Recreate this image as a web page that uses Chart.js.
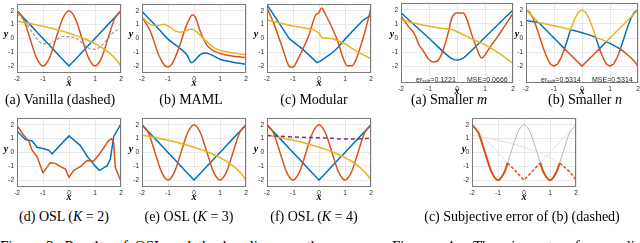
<!DOCTYPE html>
<html><head><meta charset="utf-8">
<script src="https://cdn.jsdelivr.net/npm/chart.js@4/dist/chart.umd.min.js"></script>
<style>
html,body{margin:0;padding:0;}
body{width:640px;height:243px;overflow:hidden;background:#fff;position:relative;font-family:"Liberation Serif","Times New Roman",serif;color:#000;}
canvas{position:absolute;}
.t{position:absolute;white-space:nowrap;}
.cap{font-size:14px;line-height:14px;transform:translateX(-50%);}
.ax{font-size:10px;line-height:10px;font-style:italic;font-weight:bold;transform:translateX(-50%);}
.ann{font-family:"Liberation Sans",Arial,sans-serif;font-size:7px;line-height:7px;color:#262626;}
.fig{font-size:15px;line-height:15px;text-align:justify;text-align-last:justify;}
</style>
</head><body>
<script>
// ---------- tick labels ----------
const TICK_VALUES = [-2, -1, 0, 1, 2];

// ---------- ground-truth tasks ----------
const gtX       = [-2,-1.75,-1.5,-1.25,-1,-0.75,-0.5,-0.25,0,0.25,0.5,0.75,1,1.25,1.5,1.75,2];
const gtRedY    = [2,1.41,0,-1.41,-2,-1.41,0,1.41,2,1.41,0,-1.41,-2,-1.41,0,1.41,2];
const gtBlueY   = [2,1.5,1,0.5,0,-0.5,-1,-1.5,-2,-1.5,-1,-0.5,0,0.5,1,1.5,2];
const gtYellowX = [-2,-1.75,-1.5,-1.25,-1,-0.75,-0.5,-0.25,0,0.25,0.5,0.75,1,1.25,1.5,1.75,1.875,2];
const gtYellowY = [1.25,1.165,1.075,0.98,0.878,0.768,0.65,0.521,0.38,0.224,0.05,-0.147,-0.376,-0.645,-0.975,-1.40,-1.67,-2.0];

// ---------- (a) Vanilla ----------
const vanillaY  = [1.75,1.36,0.69,0.02,-0.37,-0.38,-0.12,0.14,0.13,0.04,-0.32,-0.69,-0.79,-0.52,0.01,0.50,0.67];

// ---------- (b) MAML ----------
const mamlBlueX   = [-2,-1.5,-1,-0.6,-0.27,-0.1,0.05,0.24,0.42,0.65,1,1.45,2];
const mamlBlueY   = [1.95,0.98,-0.05,-0.62,-1.2,-1.75,-1.55,-1.17,-1.05,-1.17,-1.5,-1.7,-1.86];
const mamlRedX    = [-2,-1.68,-1.36,-1.13,-1.0,-0.85,-0.59,-0.33,-0.14,-0.06,0.05,0.24,0.5,0.82,1.2,1.6,2];
const mamlRedY    = [1.55,0.52,-1.18,-1.95,-2.05,-1.86,-0.73,0.75,1.55,1.72,1.55,0.52,-0.5,-0.95,-1.18,-1.3,-1.38];
const mamlYellowX = [-2,-1.68,-1.42,-1.17,-0.97,-0.72,-0.53,-0.33,-0.08,0.12,0.44,0.82,1.2,1.6,2];
const mamlYellowY = [1.55,1.0,0.93,1.02,0.88,0.55,0.45,0.55,0.68,0.45,-0.15,-0.72,-0.95,-1.08,-1.18];

// ---------- (c) Modular ----------
const modBlueX   = [-2,-1.13,-1,-0.65,-0.33,-0.08,0.05,0.44,0.69,1.0,1.46,1.72,2];
const modBlueY   = [2.45,-0.05,-0.23,-0.73,-1.3,-1.75,-1.64,-1.14,-0.73,-0.05,0.86,1.36,1.66];
const modRedX    = [-2,-1.74,-1.42,-1.17,-1.08,-0.97,-0.85,-0.4,-0.14,-0.01,0.1,0.24,0.69,0.95,1.08,1.27,1.4,1.72,2];
const modRedY    = [2.2,1.09,-0.61,-1.95,-2.08,-2.05,-1.64,0.18,1.66,1.85,2.2,1.77,-0.05,-1.52,-1.98,-1.98,-1.64,0.18,2.2];
const modYellowX = [-2,-1,-0.21,-0.01,0.12,0.5,1,1.46,2];
const modYellowY = [1.33,0.9,0.64,0.41,0.05,0.0,-0.38,-0.95,-1.48];

// ---------- Fig 4 (a) Smaller m ----------
const smBlueX   = [-2,-1,-0.3,-0.15,0,0.15,0.3,1,2];
const smBlueY   = [1.8,-0.02,-1.3,-1.5,-1.57,-1.5,-1.3,0.06,2.0];
const smRedX    = [-2,-1.75,-1.49,-1.37,-1.2,-1.02,-0.84,-0.66,-0.49,-0.31,-0.19,-0.01,0.22,0.34,0.52,0.7,0.88,1.0,1.23,1.47,1.7,2];
const smRedY    = [1.6,0.85,0.18,-0.44,-0.93,-1.49,-1.7,-1.56,-0.82,0.4,1.4,1.78,1.78,1.4,0.29,-0.71,-1.42,-1.2,-0.5,0.15,0.85,1.75];
const smYellowX = [-2,-1.5,-1,-0.5,-0.19,0,0.5,1,1.5,2];
const smYellowY = [1.3,1.05,0.84,0.68,0.6,0.45,-0.02,-0.49,-1.07,-1.82];
const smErr = "0.1221", smMse = "0.0666";

// ---------- Fig 4 (b) Smaller n ----------
const snRedX    = [-2,-1.875,-1.75,-1.625,-1.5,-1.375,-1.25,-1.125,-1,-0.875,-0.75,-0.625,0,0.625,0.75,0.875,1,1.125,1.25,1.37,1.5,1.75,1.875,2];
const snRedY    = [2,1.85,1.41,0.77,0,-0.77,-1.41,-1.85,-2,-1.85,-1.41,-0.76,-2,-0.76,-1.41,-1.85,-2,-1.85,-1.41,-0.79,-0.975,-1.40,-1.67,-2];
const snYellowX = [-2,-1.55,-1.25,-1,-0.75,-0.5,-0.415,-0.375,-0.25,-0.125,0,0.125,0.25,0.375,0.49,0.75,0.865,2];
const snYellowY = [2,1.1,0.98,0.878,0.768,0.65,0.58,0.77,1.41,1.85,2,1.85,1.41,0.77,0.06,-0.147,-0.26,2];
const snBlueX   = [-2,-1.55,-1,-0.625,-0.5,-0.415,-0.25,0,0.25,0.49,0.625,0.865,1,1.25,1.37,1.5,1.625,1.75,1.875,2];
const snBlueY   = [1.25,1.1,0,-0.76,0,0.58,0.521,0.38,0.224,0.06,-0.76,-0.26,-0.376,-0.645,-0.79,0,0.77,1.41,1.85,2];
const snErr = "0.5314", snMse = "0.5314";

// ---------- (d) OSL K=2 ----------
const k2BlueX = [-2,-1.68,-1.42,-1.23,-0.97,-0.78,-0.65,0,0.44,0.69,1.0,1.17,1.46,1.59,1.72,2];
const k2BlueY = [1.55,0.94,0.83,0.38,0.27,0.16,-0.1,1.2,0.49,-0.25,-0.97,-1.3,-0.97,-0.5,1.17,2.07];
const k2RedX  = [-2,-1.74,-1.55,-1.42,-1.23,-1,-0.72,-0.53,-0.33,-0.14,0,0.18,0.44,0.69,0.94,1.19,1.51,1.64,1.72,1.78,2];
const k2RedY  = [1.95,1.24,0.83,0.16,-0.3,-1.48,-0.74,-0.79,-1.03,-1.2,-1.8,-1.3,-1.03,-0.58,-0.63,-0.07,0.83,1.0,0.72,-1.08,-2.1];

// ---------- (f) OSL K=4 extra dashed ----------
const k4X = [-2,-1.5,-1,-0.5,0,0.5,1,1.5,2];
const k4Y = [1.22,1.17,1.12,1.09,1.06,1.02,0.97,0.98,1.03];

// ---------- Fig 4 (c) subjective error ----------
const subSolidAX = [-2,-1.75,-1.5,-1.25,-1,-0.75,-0.625];
const subSolidAY = [2,1.41,0,-1.41,-2,-1.41,-0.76];
const subSolidBX = [0.625,0.75,1,1.25,1.37];
const subSolidBY = [-0.76,-1.41,-2,-1.41,-0.79];
const subDashAX  = [-0.625,0,0.625];
const subDashAY  = [-0.76,-2,-0.76];
const subDashBX  = [1.37,1.5,1.75,1.875,2];
const subDashBY  = [-0.79,-0.975,-1.40,-1.67,-2];

// ---------- styles ----------
const C = {blue:'#0072BD', red:'#D95319', yellow:'#EDB120', purple:'#7E2F8E', gray:'#9a9a9a'};

function pts(xs, ys){ return xs.map((x,i)=>({x:x, y:ys[i]})); }
function line(xs, ys, color, o){
  o = o || {};
  return {
    data: pts(xs, ys), borderColor: color, backgroundColor: color,
    borderWidth: o.w || 1.5, borderDash: o.dash || [], fill: false, pointRadius: 0,
    tension: 0, cubicInterpolationMode: o.smooth ? 'monotone' : 'default',
    borderCapStyle: 'butt', borderJoinStyle: 'round'
  };
}

const boxPlugin = {
  id: 'box',
  afterDatasetsDraw(chart){
    const a = chart.chartArea, ctx = chart.ctx;
    ctx.save();
    ctx.strokeStyle = '#7a7a7a'; ctx.lineWidth = 1;
    ctx.strokeRect(Math.round(a.left)+0.5, Math.round(a.top)+0.5, Math.round(a.right-a.left)-1, Math.round(a.bottom-a.top)-1);
    ctx.restore();
  }
};

function panel(box, yMin, yMax, datasets){
  const padL=16, padT=2, padR=4, padB=12;
  const w = box.r - box.l + padL + padR, h = box.b - box.t + padT + padB;
  const c = document.createElement('canvas');
  c.width = w; c.height = h;
  c.style.left = (box.l - padL) + 'px'; c.style.top = (box.t - padT) + 'px';
  c.style.width = w + 'px'; c.style.height = h + 'px';
  document.body.appendChild(c);
  const tickFont = {family:'"Liberation Sans", Arial, sans-serif', size:6.5};
  const grid = {color:'#e3e3e3', lineWidth:0.8, drawTicks:false};
  new Chart(c, {
    type: 'line',
    data: {datasets: datasets},
    options: {
      responsive: false, animation: false, devicePixelRatio: 1,
      layout: {padding: {top: padT, right: padR, left: 0, bottom: 0}},
      plugins: {legend: {display: false}, tooltip: {enabled: false}, title: {display: false}},
      events: [],
      scales: {
        x: {type: 'linear', min: -2, max: 2,
            afterBuildTicks: s => { s.ticks = TICK_VALUES.map(v => ({value: v})); },
            afterFit: s => { s.height = padB; },
            ticks: {font: tickFont, color: '#262626', padding: 2, maxRotation: 0, autoSkip: false},
            grid: grid, border: {display: false}},
        y: {type: 'linear', min: yMin, max: yMax,
            afterBuildTicks: s => { s.ticks = TICK_VALUES.map(v => ({value: v})); },
            afterFit: s => { s.width = padL; },
            ticks: {font: tickFont, color: '#262626', padding: 3, autoSkip: false},
            grid: grid, border: {display: false}}
      }
    },
    plugins: [boxPlugin]
  });
}

const gtSets = () => [
  line(gtYellowX, gtYellowY, C.yellow, {smooth:true}),
  line(gtX, gtRedY, C.red, {smooth:true}),
  line(gtX, gtBlueY, C.blue)
];

// Row 1
panel({l:17, r:121, t:-1, b:73}, -2.5, 2.5,
  [line(gtX, vanillaY, C.gray, {smooth:true, dash:[3,2], w:1.2})].concat(gtSets()));
panel({l:142, r:246, t:-1, b:73}, -2.5, 2.5, [
  line(mamlYellowX, mamlYellowY, C.yellow, {smooth:true}),
  line(mamlRedX, mamlRedY, C.red, {smooth:true}),
  line(mamlBlueX, mamlBlueY, C.blue, {smooth:true})]);
panel({l:267, r:371, t:-1, b:73}, -2.5, 2.5, [
  line(modYellowX, modYellowY, C.yellow),
  line(modRedX, modRedY, C.red, {smooth:true}),
  line(modBlueX, modBlueY, C.blue)]);
panel({l:401, r:513, t:-2, b:83}, -3.2, 2.5, [
  line(smYellowX, smYellowY, C.yellow, {smooth:true}),
  line(smRedX, smRedY, C.red, {smooth:true}),
  line(smBlueX, smBlueY, C.blue, {smooth:true})]);
panel({l:526, r:638, t:-2, b:83}, -3.2, 2.5, [
  line(snYellowX, snYellowY, C.yellow),
  line(snRedX, snRedY, C.red),
  line(snBlueX, snBlueY, C.blue)]);

// Row 2
panel({l:17, r:121, t:113, b:187}, -2.5, 2.5, [
  line(k2RedX, k2RedY, C.red),
  line(k2BlueX, k2BlueY, C.blue)]);
panel({l:142, r:246, t:113, b:187}, -2.5, 2.5, gtSets());
panel({l:267, r:371, t:113, b:187}, -2.5, 2.5,
  [line(k4X, k4Y, C.purple, {smooth:true, dash:[4,3]})].concat(gtSets()));
panel({l:472, r:576, t:113, b:187}, -2.5, 2.5, [
  line(subSolidAX, subSolidAY, C.red, {smooth:true, w:2}),
  line(subSolidBX, subSolidBY, C.red, {smooth:true, w:2}),
  line(subDashAX, subDashAY, C.red, {dash:[3,2]}),
  line(subDashBX, subDashBY, C.red, {smooth:true, dash:[3,2]}),
  line(gtX, gtRedY, '#b4b4b4', {smooth:true, w:1}),
  line(gtX, gtBlueY, '#e2e2e2', {w:1}),
  line(gtYellowX, gtYellowY, '#e2e2e2', {smooth:true, w:1})]);

// ---------- text ----------
function txt(cls, html, x, y){
  const d = document.createElement('div');
  d.className = 't ' + cls; d.innerHTML = html;
  d.style.left = x + 'px'; d.style.top = y + 'px';
  document.body.appendChild(d);
  return d;
}
// axis labels
const yLab = [[6,29],[131,29],[256,29],[392,29],[517,29],[6,143.5],[131,143.5],[256,143.5],[464,143.5]];
yLab.forEach(p => txt('ax', 'y', p[0], p[1]));
const xLab = [[69,78],[194,78],[319,78],[457,86],[582,86],[69,192],[194,192],[319,192],[524,192]];
xLab.forEach(p => txt('ax', 'x', p[0], p[1]));

// captions
txt('cap', '(a) Vanilla (dashed)', 60, 93.3);
txt('cap', '(b) MAML', 191, 93.3);
txt('cap', '(c) Modular', 314, 93.3);
txt('cap', '(a) Smaller <i>m</i>', 449, 93.3);
txt('cap', '(b) Smaller <i>n</i>', 585, 93.3);
txt('cap', '(d) OSL (<i>K</i> = 2)', 64, 210);
txt('cap', '(e) OSL (<i>K</i> = 3)', 189, 210);
txt('cap', '(f) OSL (<i>K</i> = 4)', 314, 210);
txt('cap', '(c) Subjective error of (b) (dashed)', 522, 210);

// annotations
const subHtml = v => 'er<span style="font-size:5px;position:relative;top:1.5px">sub</span>=' + v;
txt('ann', subHtml(smErr), 416, 75.5);
txt('ann', 'MSE=' + smMse, 467, 75.5);
txt('ann', subHtml(snErr), 541, 75.5);
txt('ann', 'MSE=' + snMse, 592, 75.5);

// figure captions
const f3 = txt('fig', 'Figure 3: Results of OSL and the baselines on the', 0, 238.5); f3.style.width = '325px'; f3.style.whiteSpace='normal';
const f4 = txt('fig', 'Figure 4: The impact of sampling', 392, 238.5); f4.style.width = '258px'; f4.style.whiteSpace='normal';
</script>
</body></html>
